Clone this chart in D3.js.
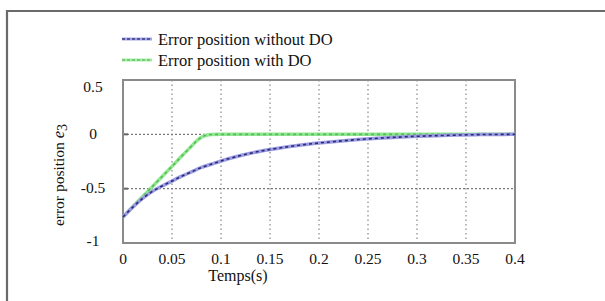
<!DOCTYPE html>
<html><head><meta charset="utf-8">
<script src="https://cdn.jsdelivr.net/npm/d3@7"></script>
<style>body{margin:0;background:#fff}svg{display:block}text{font-family:"Liberation Serif","Times New Roman",serif;fill:#111}</style>
</head><body><svg id="c" width="605" height="301"></svg>
<script>
const tWithout = [0,0.01,0.02,0.03,0.04,0.05,0.06,0.07,0.08,0.09,0.1,0.12,0.14,0.16,0.18,0.2,0.22,0.24,0.26,0.28,0.3,0.32,0.34,0.36,0.38,0.4];
const eWithout = [-0.76,-0.67,-0.59,-0.525,-0.475,-0.43,-0.385,-0.345,-0.305,-0.275,-0.245,-0.195,-0.155,-0.125,-0.1,-0.08,-0.063,-0.048,-0.036,-0.026,-0.018,-0.012,-0.007,-0.003,-0.001,0];
const tWith = [0,0.01,0.02,0.03,0.04,0.05,0.06,0.07,0.075,0.08,0.085,0.09,0.1,0.2,0.3,0.4];
const eWith = [-0.76,-0.667,-0.574,-0.481,-0.388,-0.295,-0.2,-0.108,-0.062,-0.026,-0.008,-0.002,0,0,0,0];
const xTicks = [0,0.05,0.1,0.15,0.2,0.25,0.3,0.35,0.4];
const xTickLabels = ["0","0.05","0.1","0.15","0.2","0.25","0.3","0.35","0.4"];
const yTicks = [0.5,0,-0.5,-1];
const yTickLabels = ["0.5","0","-0.5","-1"];
const yGrid = [0,-0.5];
const legendLabels = ["Error position without DO","Error position with DO"];

const svg = d3.select("#c");
const L=123,R=515,T=80,B=243;
const x = d3.scaleLinear().domain([0,0.4]).range([L,R]);
const y = d3.scaleLinear().domain([-1,0.5]).range([B,T]);

// outer frame
svg.append("path").attr("d","M7,301 L7,11 L605,11").attr("fill","none").attr("stroke","#6a6a6a").attr("stroke-width",2.2);

// grid
const g = svg.append("g");
g.selectAll(".vg").data(xTicks.slice(1,-1)).enter().append("line")
 .attr("x1",d=>x(d)).attr("x2",d=>x(d)).attr("y1",T).attr("y2",B)
 .attr("stroke","#999").attr("stroke-width",1.4).attr("stroke-dasharray","1.5,3");
g.selectAll(".hg").data(yGrid).enter().append("line")
 .attr("x1",L).attr("x2",R).attr("y1",d=>y(d)).attr("y2",d=>y(d))
 .attr("stroke","#777").attr("stroke-width",1.4).attr("stroke-dasharray","2,2");
g.selectAll(".tk").data(yGrid).enter().append("line")
 .attr("x1",L).attr("x2",L+5).attr("y1",d=>y(d)).attr("y2",d=>y(d))
 .attr("stroke","#666").attr("stroke-width",2);

// plot box
svg.append("rect").attr("x",L).attr("y",T).attr("width",R-L).attr("height",B-T)
 .attr("fill","none").attr("stroke","#8a8a8a").attr("stroke-width",2);

const line = d3.line().x(d=>x(d[0])).y(d=>y(d[1])).curve(d3.curveMonotoneX);
const dWithout = tWithout.map((t,i)=>[t,eWithout[i]]);
const dWith = tWith.map((t,i)=>[t,eWith[i]]);

function drawSeries(data, under, over){
  svg.append("path").attr("d",line(data)).attr("fill","none").attr("stroke",under).attr("stroke-width",3.5);
  svg.append("path").attr("d",line(data)).attr("fill","none").attr("stroke",over).attr("stroke-width",1.6).attr("stroke-dasharray","3,3");
}
drawSeries(dWith,"#8fe88f","#5cb85c");
drawSeries(dWithout,"#9c9ce0","#2a2a7a");

// axis labels
svg.selectAll(".xt").data(xTicks).enter().append("text")
 .attr("x",(d)=>x(d)).attr("y",264).attr("text-anchor","middle").attr("font-size",15.5)
 .text((d,i)=>xTickLabels[i]);
const yLabelPos = [87,134,188,241];
svg.selectAll(".yt").data(yTicks).enter().append("text")
 .attr("x",93).attr("y",(d,i)=>yLabelPos[i]).attr("dy","0.35em").attr("text-anchor","middle").attr("font-size",15.5)
 .text((d,i)=>yTickLabels[i]);

svg.append("text").attr("x",238).attr("y",281).attr("text-anchor","middle").attr("font-size",16).text("Temps(s)");
const yl = svg.append("text").attr("transform","translate(64,175) rotate(-90)").attr("text-anchor","middle").attr("font-size",15.5);
yl.append("tspan").text("error position ");
yl.append("tspan").attr("font-style","italic").attr("font-size",16.5).text("e");
yl.append("tspan").attr("dy",3).attr("font-size",14).text("3");

// legend
const lg = svg.append("g");
const legUnder=["#a4a4e4","#a0eea0"], legOver=["#3a3a8a","#6cc06c"], legY=[39,60];
legendLabels.forEach((lab,i)=>{
  lg.append("line").attr("x1",122).attr("x2",152).attr("y1",legY[i]).attr("y2",legY[i]).attr("stroke",legUnder[i]).attr("stroke-width",3);
  lg.append("line").attr("x1",122).attr("x2",152).attr("y1",legY[i]).attr("y2",legY[i]).attr("stroke",legOver[i]).attr("stroke-width",1.4).attr("stroke-dasharray","3,2");
  lg.append("text").attr("x",158).attr("y",legY[i]).attr("dy","0.35em").attr("font-size",16.5).text(lab);
});
</script></body></html>
